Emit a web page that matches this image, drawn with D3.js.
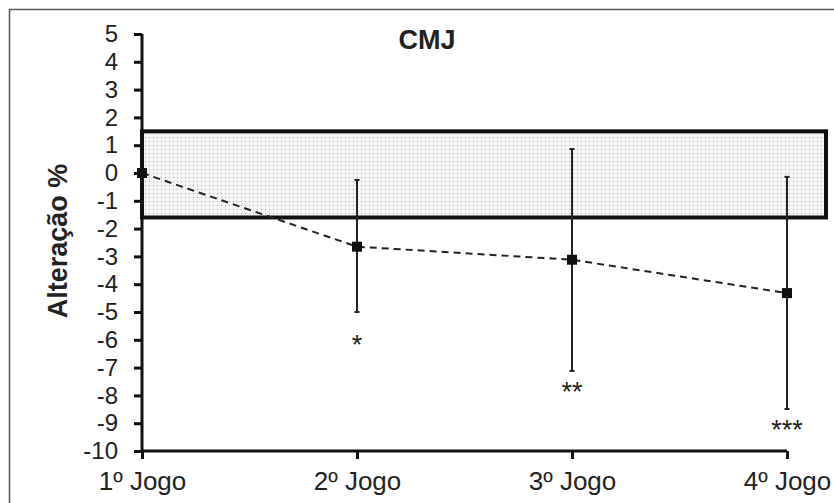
<!DOCTYPE html>
<html>
<head>
<meta charset="utf-8">
<title>CMJ</title>
<script src="https://d3js.org/d3.v7.min.js"></script>
<style>
  body { margin: 0; background: #fff; }
  text { font-family: "Liberation Sans", Arial, sans-serif; fill: #222; }
</style>
</head>
<body>
<svg width="834" height="503"></svg>
<script>
// data
var games = ["1º Jogo", "2º Jogo", "3º Jogo", "4º Jogo"];
var means = [0, -2.65, -3.12, -4.32];
var errTop = [0, -0.25, 0.86, -0.14];
var errBottom = [0, -5.0, -7.12, -8.49];
var stars = ["", "*", "**", "***"];
var starY = [0, -5.95, -7.66, -9.03];
var yTicks = d3.range(-10, 6, 1);
var band = [-1.6, 1.5];

var svg = d3.select("svg");

var x = d3.scalePoint().domain(games).range([142, 787]);
var y = d3.scaleLinear().domain([-10, 5]).range([451, 34]);

// outer frame (top and left visible)
svg.append("path")
  .attr("d", "M9.5,503 L9.5,9.5 L834,9.5")
  .attr("fill", "none").attr("stroke", "#555").attr("stroke-width", 1.5);

// dotted pattern
var defs = svg.append("defs");
var pat = defs.append("pattern")
  .attr("id", "dots").attr("patternUnits", "userSpaceOnUse")
  .attr("width", 4).attr("height", 4);
pat.append("rect").attr("width", 4).attr("height", 4).attr("fill", "#f4f4f4");
pat.append("rect").attr("x", 1).attr("y", 1).attr("width", 1).attr("height", 1).attr("fill", "#aaa");

// band
svg.append("rect")
  .attr("x", x(games[0]))
  .attr("y", y(band[1]))
  .attr("width", 826 - x(games[0]))
  .attr("height", y(band[0]) - y(band[1]))
  .attr("fill", "url(#dots)")
  .attr("stroke", "#111").attr("stroke-width", 4);

// y axis
var yAxis = svg.append("g")
  .attr("transform", "translate(" + x(games[0]) + ",0)")
  .call(d3.axisLeft(y).tickValues(yTicks).tickSize(8).tickPadding(16).tickFormat(d3.format("d")));
yAxis.select(".domain").attr("stroke", "#111").attr("stroke-width", 3)
  .attr("d", "M0," + y(5) + "V" + y(-10));
yAxis.selectAll(".tick line").attr("stroke", "#111").attr("stroke-width", 3).attr("x2", -8);
yAxis.selectAll(".tick text").style("font-size", "24px").attr("fill", "#222")
  .text(function(d) { return d < 0 ? "-" + Math.abs(d) : d; });

// x axis
var xAxis = svg.append("g")
  .attr("transform", "translate(0," + y(-10) + ")")
  .call(d3.axisBottom(x).tickSize(8).tickPadding(13));
xAxis.select(".domain").attr("stroke", "#111").attr("stroke-width", 3)
  .attr("d", "M" + x(games[0]) + ",0H" + x(games[3]));
xAxis.selectAll(".tick line").attr("stroke", "#111").attr("stroke-width", 3);
xAxis.selectAll(".tick text").style("font-size", "26px").attr("fill", "#222");

// error bars
var pts = games.map(function(g, i) {
  return { g: g, m: means[i], hi: errTop[i], lo: errBottom[i], s: stars[i], sy: starY[i] };
});
var eb = svg.append("g").selectAll("g").data(pts.slice(1)).enter().append("g");
eb.append("line")
  .attr("x1", function(d) { return x(d.g); }).attr("x2", function(d) { return x(d.g); })
  .attr("y1", function(d) { return y(d.hi); }).attr("y2", function(d) { return y(d.lo); })
  .attr("stroke", "#222").attr("stroke-width", 2);
eb.selectAll(".cap").data(function(d) { return [[d.g, d.hi], [d.g, d.lo]]; }).enter().append("line")
  .attr("x1", function(d) { return x(d[0]) - 2.5; }).attr("x2", function(d) { return x(d[0]) + 2.5; })
  .attr("y1", function(d) { return y(d[1]); }).attr("y2", function(d) { return y(d[1]); })
  .attr("stroke", "#222").attr("stroke-width", 2);

// dashed mean line
svg.append("path")
  .datum(pts)
  .attr("fill", "none").attr("stroke", "#222").attr("stroke-width", 2)
  .attr("stroke-dasharray", "7,5")
  .attr("d", d3.line().x(function(d) { return x(d.g); }).y(function(d) { return y(d.m); }));

// markers
svg.append("g").selectAll("rect").data(pts).enter().append("rect")
  .attr("x", function(d) { return x(d.g) - 5; })
  .attr("y", function(d) { return y(d.m) - 5; })
  .attr("width", 10).attr("height", 10).attr("fill", "#111");

// significance stars (value = vertical centre of the glyph)
svg.append("g").selectAll("text").data(pts.slice(1)).enter().append("text")
  .attr("x", function(d) { return x(d.g); })
  .attr("y", function(d) { return y(d.sy); })
  .attr("dy", "0.57em")
  .attr("text-anchor", "middle")
  .style("font-size", "27px")
  .text(function(d) { return d.s; });

// title
svg.append("text")
  .attr("x", 427).attr("y", 49)
  .attr("text-anchor", "middle")
  .style("font-size", "27px").style("font-weight", "bold")
  .text("CMJ");

// y label
svg.append("text")
  .attr("transform", "translate(67,241) rotate(-90)")
  .attr("text-anchor", "middle")
  .style("font-size", "27px").style("font-weight", "bold")
  .text("Alteração %");
</script>
</body>
</html>
